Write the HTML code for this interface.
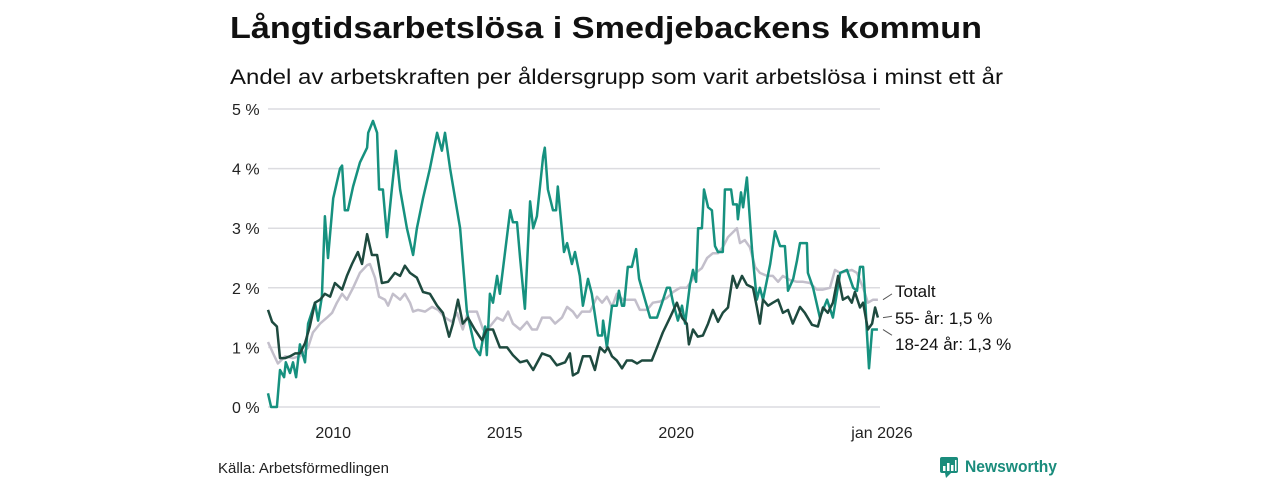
<!DOCTYPE html>
<html><head><meta charset="utf-8">
<style>
html,body{margin:0;padding:0;background:#fff;}
svg{display:block;font-family:"Liberation Sans","DejaVu Sans",sans-serif;}
</style></head>
<body>
<svg id="chart" width="1280" height="480" viewBox="0 0 1280 480">
<text x="230" y="38" font-size="31" font-weight="bold" fill="#111" textLength="752" lengthAdjust="spacingAndGlyphs">Långtidsarbetslösa i Smedjebackens kommun</text>
<text x="230" y="84" font-size="21" fill="#111" textLength="773" lengthAdjust="spacingAndGlyphs">Andel av arbetskraften per åldersgrupp som varit arbetslösa i minst ett år</text>
<g id="grid"></g>
<g id="series"></g>
<g id="labels"></g>
<text x="218" y="473" font-size="15" fill="#222">Källa: Arbetsförmedlingen</text>
<g>
<rect x="940" y="457" width="18" height="16" rx="2" fill="#1a8c7c"/>
<polygon points="945,473 951,473 946,478" fill="#1a8c7c"/>
<rect x="943" y="466" width="2.5" height="5" fill="#fff"/><rect x="947" y="463" width="2.5" height="8" fill="#fff"/><rect x="951" y="465" width="2.5" height="6" fill="#fff"/><rect x="955" y="460" width="1.5" height="11" fill="#fff"/>
<text x="965" y="472" font-size="17" font-weight="bold" fill="#1a8c7c" textLength="92" lengthAdjust="spacingAndGlyphs">Newsworthy</text>
</g>
</svg>
<script>
const yTicks=[0,1,2,3,4,5];
const yTickLabels=["0 %","1 %","2 %","3 %","4 %","5 %"];
const xTicks=[2010,2015,2020,2026];
const xTickLabels=["2010","2015","2020","jan 2026"];
const greenT=[2008.10,2008.19,2008.36,2008.45,2008.57,2008.62,2008.74,2008.83,2008.92,2009.03,2009.18,2009.27,2009.47,2009.56,2009.67,2009.76,2009.85,2010.00,2010.20,2010.26,2010.34,2010.43,2010.58,2010.78,2010.99,2011.02,2011.16,2011.28,2011.34,2011.45,2011.57,2011.71,2011.83,2011.95,2012.15,2012.33,2012.44,2012.62,2012.82,2013.03,2013.17,2013.26,2013.41,2013.70,2013.90,2014.13,2014.28,2014.43,2014.48,2014.57,2014.66,2014.78,2014.86,2015.16,2015.24,2015.36,2015.45,2015.59,2015.74,2015.83,2015.94,2016.12,2016.17,2016.26,2016.41,2016.50,2016.55,2016.73,2016.82,2016.96,2017.05,2017.19,2017.28,2017.43,2017.54,2017.72,2017.84,2017.87,2017.98,2018.13,2018.27,2018.33,2018.42,2018.48,2018.59,2018.71,2018.83,2018.92,2019.09,2019.24,2019.44,2019.59,2019.73,2019.82,2019.91,2020.05,2020.17,2020.26,2020.40,2020.49,2020.58,2020.64,2020.75,2020.81,2020.93,2021.04,2021.13,2021.22,2021.36,2021.42,2021.60,2021.66,2021.77,2021.80,2021.89,2021.95,2022.06,2022.21,2022.35,2022.44,2022.53,2022.74,2022.88,2023.03,2023.17,2023.26,2023.41,2023.52,2023.61,2023.81,2023.84,2023.99,2024.19,2024.40,2024.57,2024.78,2024.98,2025.16,2025.27,2025.36,2025.45,2025.51,2025.56,2025.62,2025.71,2025.88];
const greenV=[0.23,0,0,0.62,0.5,0.75,0.57,0.75,0.5,1.05,0.75,1.4,1.75,1.45,1.85,3.2,2.5,3.5,4.0,4.05,3.3,3.3,3.7,4.1,4.35,4.6,4.8,4.6,3.65,3.65,2.85,3.65,4.3,3.65,3.0,2.55,3.0,3.5,4.0,4.6,4.3,4.6,4.0,3.0,1.6,1.0,0.87,1.35,0.87,1.9,1.75,2.2,1.9,3.3,3.1,3.1,2.5,1.65,3.45,3.0,3.2,4.2,4.35,3.65,3.3,3.3,3.7,2.6,2.75,2.4,2.6,2.2,1.7,2.15,1.9,1.2,1.2,1.45,1.0,1.7,1.7,1.95,1.7,1.7,2.35,2.35,2.65,2.15,1.8,1.5,1.5,1.75,2.0,2.0,1.75,1.45,1.7,1.4,2.05,2.3,2.1,3.0,3.0,3.65,3.35,3.3,2.7,2.6,2.6,3.65,3.65,3.4,3.4,3.15,3.6,3.35,3.85,2.65,1.8,2.0,1.8,2.4,2.95,2.7,2.7,1.95,2.15,2.45,2.75,2.75,2.25,2.0,1.5,1.8,1.5,2.25,2.3,2.0,1.95,2.35,2.35,1.8,1.25,0.65,1.3,1.3];
const darkT=[2008.10,2008.22,2008.36,2008.45,2008.60,2008.74,2008.89,2009.03,2009.18,2009.32,2009.47,2009.62,2009.76,2009.91,2010.05,2010.26,2010.40,2010.55,2010.72,2010.84,2010.99,2011.13,2011.28,2011.42,2011.60,2011.80,2011.95,2012.09,2012.24,2012.44,2012.62,2012.82,2013.03,2013.20,2013.38,2013.49,2013.64,2013.78,2013.93,2014.13,2014.34,2014.48,2014.66,2014.86,2015.07,2015.24,2015.45,2015.65,2015.83,2016.09,2016.32,2016.52,2016.76,2016.90,2016.99,2017.14,2017.28,2017.49,2017.63,2017.78,2017.92,2018.01,2018.13,2018.27,2018.42,2018.56,2018.71,2018.86,2019.00,2019.15,2019.29,2019.44,2019.61,2019.82,2020.02,2020.17,2020.31,2020.37,2020.49,2020.63,2020.78,2020.93,2021.07,2021.22,2021.36,2021.51,2021.65,2021.77,2021.92,2022.06,2022.24,2022.35,2022.44,2022.53,2022.68,2022.82,2022.97,2023.11,2023.26,2023.40,2023.61,2023.75,2023.96,2024.13,2024.28,2024.42,2024.57,2024.72,2024.86,2025.01,2025.12,2025.21,2025.36,2025.45,2025.59,2025.71,2025.80,2025.88];
const darkV=[1.63,1.43,1.35,0.82,0.82,0.85,0.9,0.9,1.07,1.35,1.75,1.8,1.9,1.85,2.08,1.97,2.2,2.4,2.6,2.4,2.9,2.55,2.55,2.08,2.1,2.25,2.2,2.37,2.25,2.17,1.93,1.9,1.7,1.58,1.18,1.4,1.8,1.4,1.5,1.3,1.12,1.3,1.3,1.0,1.0,0.87,0.75,0.78,0.62,0.9,0.85,0.7,0.75,0.9,0.53,0.58,0.85,0.85,0.62,1.0,0.92,1.0,0.85,0.78,0.65,0.78,0.78,0.73,0.78,0.78,0.78,1.0,1.25,1.5,1.75,1.5,1.4,1.05,1.3,1.18,1.2,1.4,1.63,1.43,1.58,1.67,2.2,2.0,2.2,2.05,2.0,1.68,1.4,1.8,1.7,1.75,1.8,1.58,1.63,1.4,1.68,1.58,1.38,1.35,1.67,1.58,1.75,2.2,1.8,1.85,1.75,1.93,1.67,1.75,1.3,1.4,1.67,1.5];
const grayT=[2008.10,2008.25,2008.39,2008.60,2008.83,2009.03,2009.27,2009.41,2009.62,2009.82,2009.97,2010.11,2010.26,2010.40,2010.58,2010.78,2010.99,2011.07,2011.22,2011.34,2011.51,2011.60,2011.74,2011.95,2012.09,2012.24,2012.33,2012.47,2012.68,2012.88,2013.06,2013.26,2013.46,2013.61,2013.78,2013.93,2014.19,2014.37,2014.57,2014.78,2014.95,2015.10,2015.24,2015.45,2015.65,2015.80,2015.94,2016.09,2016.32,2016.47,2016.67,2016.82,2016.99,2017.11,2017.25,2017.49,2017.69,2017.84,2017.98,2018.13,2018.27,2018.45,2018.80,2018.94,2019.15,2019.32,2019.53,2019.73,2019.91,2020.11,2020.31,2020.46,2020.61,2020.75,2020.90,2021.07,2021.22,2021.36,2021.51,2021.65,2021.77,2021.86,2022.00,2022.15,2022.30,2022.44,2022.65,2022.82,2022.97,2023.11,2023.32,2023.52,2023.70,2023.90,2024.10,2024.28,2024.48,2024.63,2024.78,2024.92,2025.12,2025.27,2025.45,2025.59,2025.74,2025.88];
const grayV=[1.09,0.9,0.73,0.85,0.82,0.85,1.0,1.25,1.4,1.5,1.58,1.75,1.9,1.8,2.0,2.25,2.38,2.4,2.17,1.85,1.8,1.7,1.9,1.8,1.9,1.75,1.6,1.63,1.6,1.68,1.63,1.5,1.43,1.58,1.3,1.6,1.6,1.3,1.35,1.5,1.45,1.6,1.4,1.3,1.43,1.3,1.3,1.5,1.5,1.4,1.5,1.68,1.6,1.5,1.6,1.6,1.85,1.75,1.85,1.68,1.9,1.8,1.8,1.63,1.63,1.75,1.77,1.83,1.93,2.0,2.0,2.13,2.27,2.33,2.5,2.58,2.58,2.68,2.85,2.93,3.0,2.75,2.8,2.68,2.35,2.25,2.2,2.2,2.1,2.2,2.13,2.1,2.1,2.08,1.97,1.97,2.0,2.3,2.25,2.27,2.3,2.25,2.0,1.75,1.8,1.8];

const NS="http://www.w3.org/2000/svg";
const X0=268,X1=882,T0=2008.1,T1=2026.0,Y0=407,Y5=109;
function xs(t){return X0+(t-T0)/(T1-T0)*(X1-X0);}
function ys(v){return Y0+(Y5-Y0)*v/5;}
function mk(tag,attrs,parent){const e=document.createElementNS(NS,tag);for(const k in attrs)e.setAttribute(k,attrs[k]);parent.appendChild(e);return e;}
const grid=document.getElementById('grid');
yTicks.forEach((v,i)=>{
  const l=mk('line',{x1:268,x2:880,y1:ys(v),y2:ys(v),stroke:'#dcdce0','stroke-width':1.5},grid);
  
  
  const t=mk('text',{x:232,y:ys(v)+6,'font-size':16,fill:'#222'},grid);
  t.textContent=yTickLabels[i];
  
  
});
xTicks.forEach((v,i)=>{
  const t=mk('text',{x:xs(v),y:438,'font-size':16,fill:'#222','text-anchor':'middle'},grid);
  t.textContent=xTickLabels[i];
  
  
});
const ser=document.getElementById('series');
function line(T,V,color,name){
  const d=T.map((t,i)=>(i?'L':'M')+xs(t).toFixed(1)+' '+ys(V[i]).toFixed(1)).join(' ');
  const p=mk('path',{d:d,fill:'none',stroke:color,'stroke-width':2.5,'stroke-linejoin':'round'},ser);
  
  
}
line(grayT,grayV,'#c3bfcb','line-totalt');
line(greenT,greenV,'#16917f','line-18-24');
line(darkT,darkV,'#1e4a3f','line-55-plus');
const lab=document.getElementById('labels');
const endLabels=[["Totalt",grayV,291],["55- år: 1,5 %",darkV,318],["18-24 år: 1,3 %",greenV,344]];
const endNames=['label-totalt','label-55-plus','label-18-24'];
endLabels.forEach((e,i)=>{
  const yv=ys(e[1][e[1].length-1]);
  const c=mk('line',{x1:883,y1:yv,x2:892,y2:(yv+e[2]-3)/2,stroke:'#555','stroke-width':1},lab);
  
  
  const t=mk('text',{x:895,y:e[2]+6,'font-size':17,fill:'#111'},lab);
  t.textContent=e[0];
  
  
});
</script>
</body></html>
